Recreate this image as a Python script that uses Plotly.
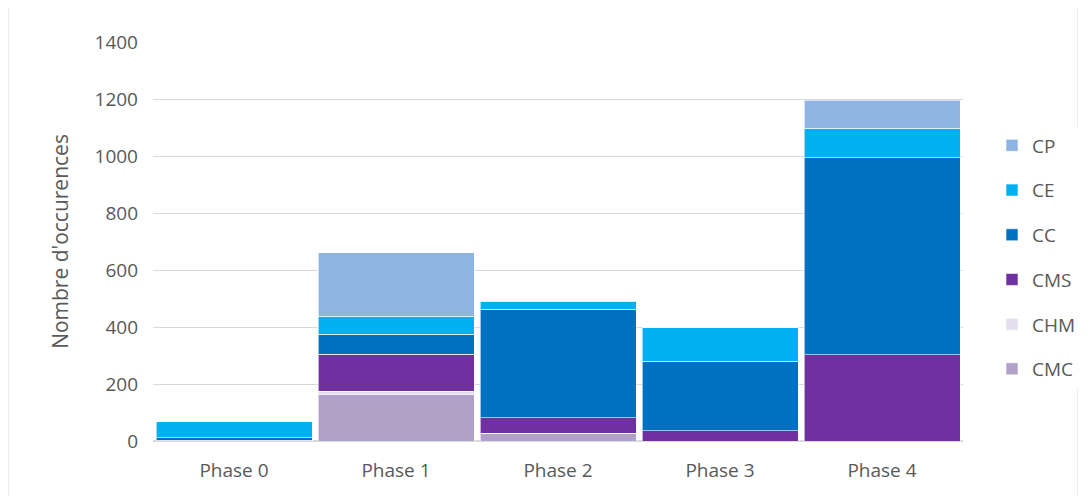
import plotly.graph_objects as go

categories = ["Phase 0", "Phase 1", "Phase 2", "Phase 3", "Phase 4"]
CMC = [0, 162, 27, 0, 0]
CHM = [0, 13, 1, 0, 0]
CMS = [3, 130, 53, 36, 303]
CC = [9, 69, 382, 243, 690]
CE = [55, 64, 27, 119, 104]
CP = [0, 222, 0, 0, 99]

series = [
    ("CMC", CMC, "#B1A0C7"),
    ("CHM", CHM, "#E4DFEC"),
    ("CMS", CMS, "#7030A0"),
    ("CC", CC, "#0070C0"),
    ("CE", CE, "#00B0F0"),
    ("CP", CP, "#8EB4E3"),
]

fig = go.Figure()
n = len(series)
for i, (name, vals, color) in enumerate(series):
    fig.add_trace(go.Bar(
        x=categories, y=vals, name=name, legendgroup=name, legendrank=n - i,
        marker=dict(color=color, line=dict(color="rgba(255,255,255,0.6)", width=1)),
    ))

W, H = 1086, 496
l, r, t, b = 145, 131, 34, 63
pw, ph = W - l - r, H - t - b

fig.update_layout(
    width=W, height=H,
    barmode="stack", bargap=0.037,
    plot_bgcolor="white", paper_bgcolor="white",
    margin=dict(l=l, r=r, t=t, b=b),
    font=dict(family="Open Sans", size=19, color="#595959"),
    legend=dict(traceorder="grouped", tracegroupgap=17, x=(984 - l) / pw, xanchor="left",
                y=0.5 - 16 / ph, yanchor="middle", font=dict(size=19, color="#595959"),
                itemwidth=30),
    yaxis=dict(range=[0, 1400], dtick=200, showgrid=True, gridcolor="#D9D9D9",
               gridwidth=1, zeroline=True, zerolinecolor="#D9D9D9",
               title=dict(text="Nombre d'occurences", font=dict(size=21, color="#595959"), standoff=20),
               tickfont=dict(size=19), ticks="", showline=False, ticklabelstandoff=14),
    xaxis=dict(tickfont=dict(size=19), showline=False, ticks="", ticklabelstandoff=16),
    shapes=[dict(type="rect", xref="paper", yref="paper",
                 x0=(0 - l) / pw, x1=(1070 - l) / pw,
                 y0=(H - t - 520) / ph, y1=(H - t - 2) / ph,
                 line=dict(color="#D9D9D9", width=1), layer="below")],
)

fig.write_html("out.html")
